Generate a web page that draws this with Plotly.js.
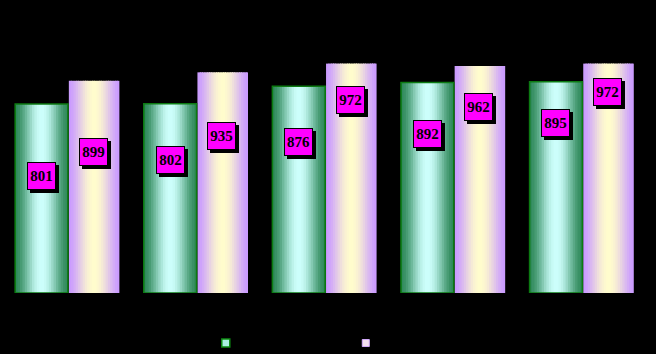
<!DOCTYPE html>
<html>
<head>
<meta charset="utf-8">
<script src="https://cdn.plot.ly/plotly-3.0.1.min.js"></script>
<style>html,body{margin:0;padding:0;background:#000;}#chart{width:656px;height:354px;}</style>
</head>
<body>
<div id="chart"></div>
<script>
// ---- data ----
const categories = ['1', '2', '3', '4', '5'];
const seriesNames = ['Series1', 'Series2'];
const seriesA = [801, 802, 876, 892, 895];
const seriesB = [899, 935, 972, 962, 972];
// label centre heights (data units) as placed in the reference
const labelPosA = [496, 564, 640, 674, 720];
const labelPosB = [597, 665, 818, 788, 852];

// ---- styling helpers ----
const N = 22;
function mix(c1, c2, t) {
  return 'rgb(' + c1.map((v, i) => Math.round(v + (c2[i] - v) * t)).join(',') + ')';
}
function profile(t, peak, p) {
  const d = t < peak ? (peak - t) / peak : (t - peak) / (1 - peak);
  return Math.pow(Math.cos(Math.min(1, d) * Math.PI / 2), p);
}
const greenEdge = [48, 138, 92], greenPeak = [205, 255, 252];
const purpleEdge = [202, 155, 255], purplePeak = [255, 252, 205];

const barDefs = [
  {vals: seriesA, off: -0.405, w: 0.41, edge: greenEdge, peak: greenPeak, pk: 0.5, p: 1.8},
  {vals: seriesB, off: 0.012, w: 0.393, edge: purpleEdge, peak: purplePeak, pk: 0.5, p: 1.6}
];

const traces = [];
barDefs.forEach(def => {
  const sw = def.w / N;
  for (let k = 0; k < N; k++) {
    const t = (k + 0.5) / N;
    traces.push({
      type: 'bar', x: categories, y: def.vals,
      offset: def.off + k * sw,
      width: k < N - 1 ? sw * 1.5 : sw,
      marker: {color: mix(def.edge, def.peak, profile(t, def.pk, def.p)), line: {width: 0}},
      showlegend: false, hoverinfo: 'skip'
    });
  }
});
// green outline
traces.push({
  type: 'bar', x: categories, y: seriesA, offset: -0.405, width: 0.41,
  marker: {color: 'rgba(0,0,0,0)', line: {color: '#0c7a12', width: 1.6}},
  showlegend: false, hoverinfo: 'skip'
});
// legend entries
traces.push({
  type: 'scatter', mode: 'markers', x: [null], y: [null], name: seriesNames[0],
  marker: {symbol: 'square', size: 8, color: 'rgb(170,240,225)', line: {color: '#0c8a12', width: 1.5}}
});
traces.push({
  type: 'scatter', mode: 'markers', x: [null], y: [null], name: seriesNames[1],
  marker: {symbol: 'square', size: 7, color: 'rgb(245,225,240)', line: {color: 'rgb(210,170,250)', width: 1}}
});

// labels
const annotations = [];
function addLabels(vals, pos, xshiftBase) {
  vals.forEach((v, i) => {
    const common = {
      x: i, y: pos[i], xref: 'x', yref: 'y', showarrow: false,
      width: 25, height: 24, borderpad: 1, borderwidth: 1
    };
    annotations.push(Object.assign({}, common, {
      text: '', bgcolor: '#000', bordercolor: '#000',
      xshift: xshiftBase + 3, yshift: -3
    }));
    annotations.push(Object.assign({}, common, {
      text: '<b>' + v + '</b>', bgcolor: '#ff00ff', bordercolor: '#000',
      font: {family: 'Liberation Serif, Times New Roman, serif', size: 15, color: '#000'},
      xshift: xshiftBase
    }));
  });
}
addLabels(seriesA, labelPosA, -0.2 * 128.6);
addLabels(seriesB, labelPosB, 0.2 * 128.6);

const layout = {
  width: 656, height: 354,
  paper_bgcolor: '#000', plot_bgcolor: '#000',
  margin: {l: 3, r: 10, t: 57, b: 61},
  barmode: 'overlay',
  xaxis: {type: 'category', range: [-0.5, 4.5], showgrid: false, zeroline: false,
          showticklabels: false, ticks: '', showline: false},
  yaxis: {range: [0, 1000], showgrid: false, zeroline: false, showticklabels: false,
          ticks: '', showline: false},
  showlegend: true,
  legend: {orientation: 'h', xref: 'container', yref: 'container', x: 0.3137, y: 0.031,
           xanchor: 'left', yanchor: 'middle', bgcolor: '#000',
           font: {color: '#000', size: 10}, entrywidth: 95, entrywidthmode: 'pixels'},
  annotations: annotations
};

Plotly.newPlot('chart', traces, layout, {displayModeBar: false, staticPlot: true});
</script>
</body>
</html>
